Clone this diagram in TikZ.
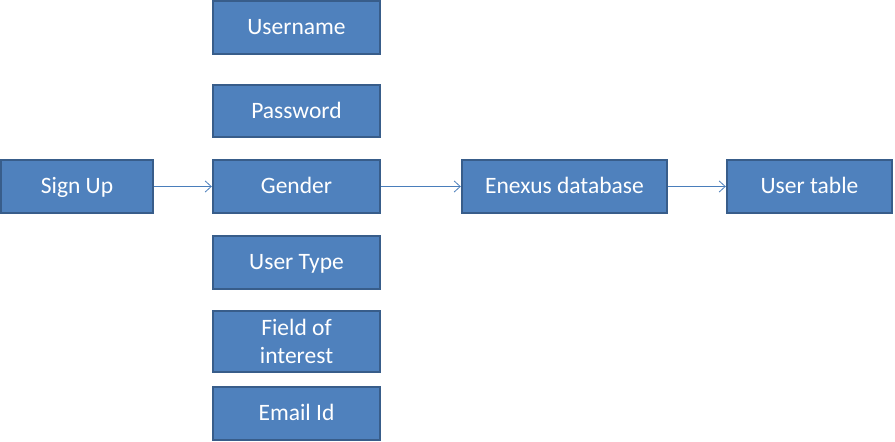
\documentclass[tikz,border=0pt]{standalone}
\usepackage{fontspec}
\setmainfont{Carlito}
\usetikzlibrary{arrows.meta}
\definecolor{boxfill}{HTML}{4F81BD}
\definecolor{boxline}{HTML}{385D8A}
\definecolor{linkcol}{HTML}{4A7EBB}
\tikzset{
  field/.style={draw=boxline, fill=boxfill, line width=2.4pt, text=white,
    minimum width=167pt, minimum height=53pt, inner sep=0pt, align=center,
    text height=18pt, text depth=4pt,
    font=\fontsize{23.5}{28}\selectfont},
  link/.style={draw=linkcol, line width=0.8pt,
    -{Straight Barb[length=6pt,width=11pt,line width=0.8pt]}}
}
\begin{document}
\begin{tikzpicture}[x=1pt,y=-1pt]
      \useasboundingbox (0,0) rectangle (895,442);
      \draw
        (77,186.5) node[field, minimum width=152pt] (signup){Sign Up}
        (296.5,27.5) node[field] (username){Username}
        (296.5,111) node[field, minimum height=52pt] (password){Password}
        (296.5,186.5) node[field] (gender){Gender}
        (296.5,262.5) node[field] (usertype){User Type}
        (296.5,341.5) node[field, minimum height=61pt, text height={}, text depth={}] (interest){Field of\\interest}
        (296.5,413.5) node[field] (email){Email Id}
        (564.5,186.5) node[field, minimum width=205pt] (enexus){Enexus database}
        (809.5,186.5) node[field, minimum width=165pt] (usertable){User table};
      \begin{scope}[link]
        \draw (signup) to (gender);
        \draw (gender) to (enexus);
        \draw (enexus) to (usertable);
      \end{scope}
    \end{tikzpicture}
\end{document}
